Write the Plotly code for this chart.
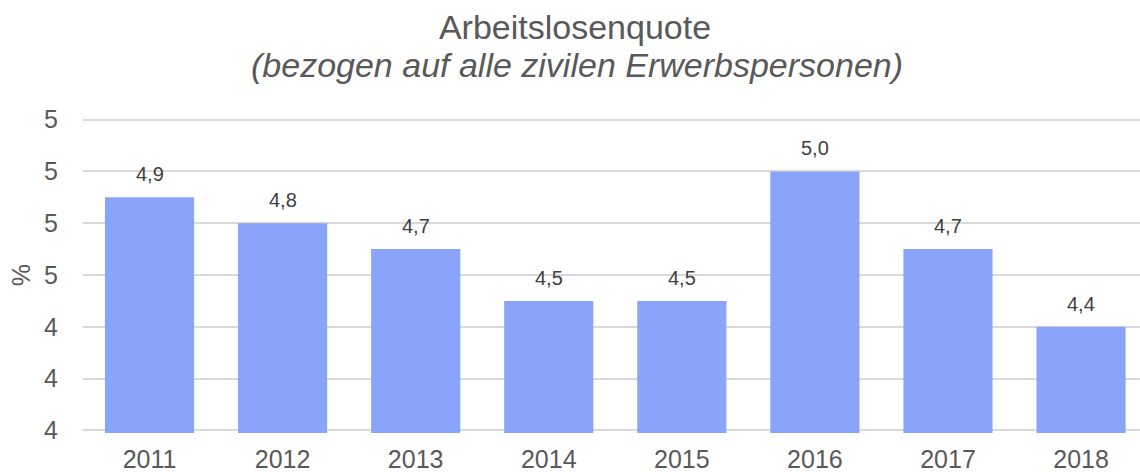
import plotly.graph_objects as go

years = ["2011", "2012", "2013", "2014", "2015", "2016", "2017", "2018"]
quote = [4.9, 4.8, 4.7, 4.5, 4.5, 5.0, 4.7, 4.4]
labels = ["4,9", "4,8", "4,7", "4,5", "4,5", "5,0", "4,7", "4,4"]

font = "Liberation Sans, Arial, sans-serif"
grey = "#595959"

W, H = 1140, 472
ML, MR, MT, MB = 83, 0, 117, 39
plot_w = W - ML - MR
plot_h = H - MT - MB

fig = go.Figure(go.Bar(
    x=years, y=quote,
    marker=dict(color="#8aa4fa", line=dict(width=0)),
    width=0.67,
))

annotations = [
    dict(x=i, y=v, xref="x", yref="y", text=lab, showarrow=False,
         xanchor="center", yanchor="bottom", yshift=10,
         font=dict(family=font, size=20, color="#404040"))
    for i, (v, lab) in enumerate(zip(quote, labels))
]
annotations.append(dict(
    text="<i>(bezogen auf alle zivilen Erwerbspersonen)</i>",
    x=(577 - ML) / plot_w, xref="paper", xanchor="center",
    y=(H - MB - 44) / plot_h, yref="paper", yanchor="top",
    showarrow=False,
    font=dict(family=font, size=34, color=grey),
))

fig.update_layout(
    width=W, height=H,
    margin=dict(l=ML, r=MR, t=MT, b=MB, autoexpand=False),
    paper_bgcolor="white", plot_bgcolor="white",
    separators=",.",
    title=dict(
        text="Arbeitslosenquote",
        x=575 / W, xref="container", xanchor="center",
        y=1 - 15 / H, yref="container", yanchor="top",
        font=dict(family=font, size=34, color=grey),
    ),
    annotations=annotations,
    showlegend=False,
)

fig.update_xaxes(
    type="category", range=[-0.5, 7.443], automargin=False,
    showgrid=False, showline=False, ticks="",
    ticklabelstandoff=9,
    tickfont=dict(family=font, size=25, color=grey),
)
fig.update_yaxes(
    range=[3.99, 5.21], dtick=0.2, tick0=4.0, tickformat=".0f", automargin=False,
    showgrid=True, gridcolor="#d9d9d9", gridwidth=1.5,
    zeroline=False, showline=False, ticks="",
    ticklabelstandoff=24,
    tickfont=dict(family=font, size=25, color=grey),
    title=dict(text="%", standoff=6, font=dict(family=font, size=25, color=grey)),
)

fig.write_html("out.html", config={"displayModeBar": False},
               post_script="document.body.style.margin='0';")
